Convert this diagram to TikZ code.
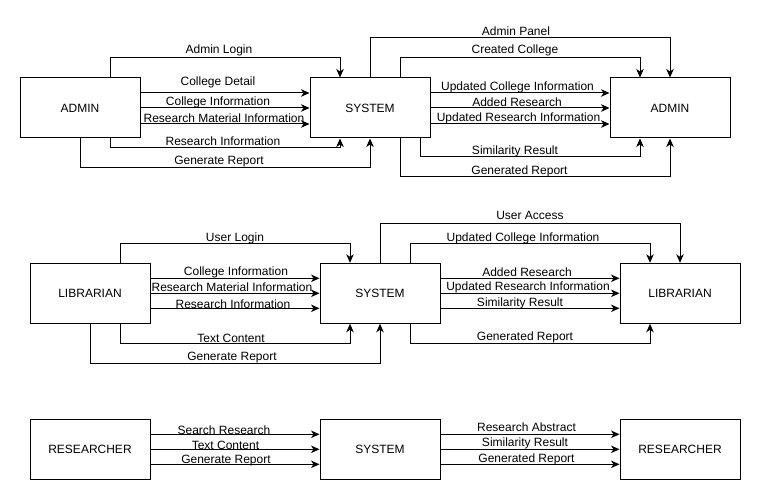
\documentclass[tikz,border=0pt]{standalone}
\usepackage{fontspec}
\setmainfont{Liberation Sans}
\usetikzlibrary{arrows.meta}
\begin{document}
\begin{tikzpicture}[x=1pt,y=-1pt,
  ent/.style={draw,line width=1pt,minimum width=120pt,minimum height=60pt,inner sep=0pt,font=\fontsize{12}{14}\selectfont},
  lbl/.style={inner sep=0pt,yshift=-1.5pt,font=\fontsize{12}{14}\selectfont},
  arr/.style={line width=1pt,-{Stealth[length=8.5pt,width=7.5pt,inset=2.5pt]}}]
\useasboundingbox (0,0) rectangle (761,500);
\fill[white] (0,0) rectangle (761,500);

% ---------- section 1 ----------
\node[ent] (a1) at (80,108) {ADMIN};
\node[ent] (s1) at (370,108) {SYSTEM};
\node[ent] (a2) at (670,108) {ADMIN};

\draw[arr] (a1.north -| 110,0) |- (340,58) -- (s1.north -| 340,0);
\draw[arr] (a1.east |- 0,93) -- (s1.west |- 0,93);
\draw[arr] (a1.east |- 0,108) -- (s1.west |- 0,108);
\draw[arr] (a1.east |- 0,124) -- (s1.west |- 0,124);
\draw[arr] (a1.south -| 110,0) |- (340,148) -- (s1.south -| 340,0);
\draw[arr] (a1.south -| 80,0) |- (370,168) -- (s1.south -| 370,0);

\node[lbl] (l11) at (219,49) {Admin Login};
\node[lbl] (l12) at (218,81) {College Detail};
\node[lbl] (l13) at (218,101) {College Information};
\node[lbl] (l14) at (224,117) {Research Material Information};
\node[lbl] (l15) at (223,140) {Research Information};
\node[lbl] (l16) at (219,160) {Generate Report};

\draw[arr] (s1.north -| 370,0) |- (670,38) -- (a2.north -| 670,0);
\draw[arr] (s1.north -| 400,0) |- (640,58) -- (a2.north -| 640,0);
\draw[arr] (s1.east |- 0,93) -- (a2.west |- 0,93);
\draw[arr] (s1.east |- 0,108) -- (a2.west |- 0,108);
\draw[arr] (s1.east |- 0,124) -- (a2.west |- 0,124);
\draw[arr] (s1.south -| 420,0) |- (640,157) -- (a2.south -| 640,0);
\draw[arr] (s1.south -| 400,0) |- (670,177) -- (a2.south -| 670,0);

\node[lbl] (r11) at (516,30) {Admin Panel};
\node[lbl] (r12) at (515,49) {Created College};
\node[lbl] (r13) at (517.5,86) {Updated College Information};
\node[lbl] (r14) at (517,101) {Added Research};
\node[lbl] (r15) at (518.5,117) {Updated Research Information};
\node[lbl] (r16) at (515,150) {Similarity Result};
\node[lbl] (r17) at (519.5,170) {Generated Report};

% ---------- section 2 ----------
\node[ent] (b1) at (90,293.3) {LIBRARIAN};
\node[ent] (s2) at (380,293.3) {SYSTEM};
\node[ent] (b2) at (680,293.3) {LIBRARIAN};

\draw[arr] (b1.north -| 120,0) |- (350,243.3) -- (s2.north -| 350,0);
\draw[arr] (b1.east |- 0,278.3) -- (s2.west |- 0,278.3);
\draw[arr] (b1.east |- 0,293.3) -- (s2.west |- 0,293.3);
\draw[arr] (b1.east |- 0,308.3) -- (s2.west |- 0,308.3);
\draw[arr] (b1.south -| 120,0) |- (350,343.3) -- (s2.south -| 350,0);
\draw[arr] (b1.south -| 90,0) |- (380,363.3) -- (s2.south -| 380,0);

\node[lbl] (l21) at (235,236.7) {User Login};
\node[lbl] (l22) at (236,270.7) {College Information};
\node[lbl] (l23) at (232,286) {Research Material Information};
\node[lbl] (l24) at (233,302.3) {Research Information};
\node[lbl] (l25) at (231,336.7) {Text Content};
\node[lbl] (l26) at (232,355.7) {Generate Report};

\draw[arr] (s2.north -| 380,0) |- (680,223.3) -- (b2.north -| 680,0);
\draw[arr] (s2.north -| 410,0) |- (650,243.3) -- (b2.north -| 650,0);
\draw[arr] (s2.east |- 0,278.3) -- (b2.west |- 0,278.3);
\draw[arr] (s2.east |- 0,293.3) -- (b2.west |- 0,293.3);
\draw[arr] (s2.east |- 0,308.3) -- (b2.west |- 0,308.3);
\draw[arr] (s2.south -| 410,0) |- (650,343.3) -- (b2.south -| 650,0);

\node[lbl] (r21) at (530,214) {User Access};
\node[lbl] (r22) at (523,236.7) {Updated College Information};
\node[lbl] (r23) at (527,270.7) {Added Research};
\node[lbl] (r24) at (528,286) {Updated Research Information};
\node[lbl] (r25) at (520,302) {Similarity Result};
\node[lbl] (r26) at (525,335.7) {Generated Report};

% ---------- section 3 ----------
\node[ent] (c1) at (90,449.3) {RESEARCHER};
\node[ent] (s3) at (380,449.3) {SYSTEM};
\node[ent] (c2) at (680,449.3) {RESEARCHER};

\draw[arr] (c1.east |- 0,434.3) -- (s3.west |- 0,434.3);
\draw[arr] (c1.east |- 0,449.3) -- (s3.west |- 0,449.3);
\draw[arr] (c1.east |- 0,464.3) -- (s3.west |- 0,464.3);
\draw[arr] (s3.east |- 0,434.3) -- (c2.west |- 0,434.3);
\draw[arr] (s3.east |- 0,449.3) -- (c2.west |- 0,449.3);
\draw[arr] (s3.east |- 0,464.3) -- (c2.west |- 0,464.3);

\node[lbl] (l31) at (224,429) {Search Research};
\node[lbl] (l32) at (225.5,443.5) {Text Content};
\node[lbl] (l33) at (226,459) {Generate Report};
\node[lbl] (r31) at (526.5,425.5) {Research Abstract};
\node[lbl] (r32) at (525,442) {Similarity Result};
\node[lbl] (r33) at (526.5,458) {Generated Report};
\end{tikzpicture}
\end{document}
